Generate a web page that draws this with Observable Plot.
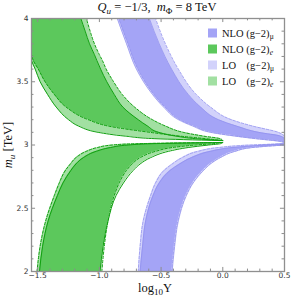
<!DOCTYPE html>
<html><head><meta charset="utf-8">
<script src="https://cdn.jsdelivr.net/npm/d3@7"></script>
<script src="https://cdn.jsdelivr.net/npm/@observablehq/plot@0.6"></script>
<style>
body{margin:0;background:#fff;}
#chart{width:291px;height:303px;}
</style></head><body><div id="chart"></div>
<script>
const XMIN = -1.55, XMAX = 0.5;
const xMajor = [-1.5, -1.0, -0.5, 0.0, 0.5];
const yMajor = [2, 2.5, 3, 3.5, 4];

// (g-2)_e, upper branch (m_u above crossing)
const eUpM      = [4.0, 3.9, 3.8, 3.714, 3.667, 3.6, 3.5, 3.4, 3.3, 3.2, 3.15, 3.1, 3.07, 3.05, 3.035];
const eUpNLOlo  = [-1.55, -1.55, -1.55, -1.55, -1.55, -1.52, -1.48, -1.42, -1.35, -1.25, -1.17, -1.01, -0.79, -0.55, -0.02];
const eUpNLOhi  = [-1.15, -1.115, -1.08, -1.04, -1.02, -0.99, -0.94, -0.88, -0.81, -0.685, -0.61, -0.52, -0.38, -0.22, 0.0];
const eUpLOlo   = [-1.55, -1.55, -1.55, -1.55, -1.535, -1.495, -1.44, -1.365, -1.27, -1.09, -0.93, -0.59, -0.345, -0.14, -0.005];
const eUpLOhi   = [-1.105, -1.075, -1.04, -1.0, -0.975, -0.945, -0.885, -0.815, -0.715, -0.57, -0.465, -0.32, -0.155, -0.02, 0.0];

// (g-2)_e, lower branch
const eDnM      = [2.0, 2.2, 2.4, 2.6, 2.7, 2.8, 2.85, 2.9, 2.95, 2.98, 3.0, 3.01, 3.02];
const eDnNLOlo  = [-1.485, -1.46, -1.415, -1.34, -1.295, -1.23, -1.19, -1.13, -1.025, -0.91, -0.765, -0.585, 0.0];
const eDnNLOhi  = [-0.995, -0.97, -0.93, -0.865, -0.805, -0.725, -0.67, -0.585, -0.44, -0.28, -0.115, -0.02, 0.0];
const eDnLOlo   = [-1.505, -1.48, -1.435, -1.365, -1.325, -1.275, -1.235, -1.19, -1.105, -1.015, -0.895, -0.71, -0.02];
const eDnLOhi   = [-0.98, -0.96, -0.93, -0.88, -0.84, -0.78, -0.735, -0.67, -0.545, -0.41, -0.22, -0.085, -0.01];

// (g-2)_mu, upper branch
const mUpM      = [4.0, 3.8, 3.6, 3.4, 3.3, 3.2, 3.15, 3.1, 3.07, 3.05, 3.03, 3.02];
const mUpNLOlo  = [-0.855, -0.78, -0.70, -0.57, -0.48, -0.36, -0.245, -0.10, 0.10, 0.265, 0.45, 0.5];
const mUpNLOhi  = [-0.595, -0.515, -0.415, -0.28, -0.18, -0.035, 0.11, 0.29, 0.47, 0.5, 0.5, 0.5];
const mUpLOlo   = [-0.843, -0.768, -0.688, -0.558, -0.468, -0.348, -0.233, -0.088, 0.112, 0.277, 0.46, 0.5];
const mUpLOhi   = [-0.545, -0.465, -0.36, -0.215, -0.10, 0.07, 0.24, 0.45, 0.5, 0.5, 0.5, 0.5];

// (g-2)_mu, lower branch
const mDnM      = [2.0, 2.2, 2.4, 2.6, 2.7, 2.8, 2.85, 2.9, 2.95, 2.98, 3.0, 3.01];
const mDnNLOlo  = [-0.67, -0.65, -0.625, -0.565, -0.515, -0.425, -0.35, -0.255, -0.10, 0.08, 0.345, 0.5];
const mDnNLOhi  = [-0.41, -0.39, -0.36, -0.295, -0.24, -0.155, -0.10, -0.02, 0.10, 0.24, 0.5, 0.5];
const mDnLOlo   = [-0.685, -0.67, -0.645, -0.585, -0.545, -0.475, -0.41, -0.33, -0.20, -0.035, 0.225, 0.5];
const mDnLOhi   = [-0.414, -0.394, -0.364, -0.299, -0.244, -0.159, -0.104, -0.024, 0.096, 0.236, 0.5, 0.5];

const legendLabels = [
  {sup: "NLO", pad: " ", sub: "μ"},
  {sup: "NLO", pad: " ", sub: "e"},
  {sup: "LO", pad: "    ", sub: "μ"},
  {sup: "LO", pad: "    ", sub: "e"}
];

const GREEN_LIGHT = "#a2e0a2", GREEN_DARK = "#5cc85c", GREEN_LINE = "#10a010";
const BLUE_LIGHT = "#d2d2fb", BLUE_DARK = "#a4a4f6", BLUE_LINE = "#9090ee";
const legendColors = [BLUE_DARK, GREEN_DARK, BLUE_LIGHT, GREEN_LIGHT];

function band(m, nlo1, nlo2, lo1, lo2) {
  const rows = m.map((mm, i) => {
    const iL = Math.max(nlo1[i], lo1[i]);
    let iR = Math.min(nlo2[i], lo2[i]);
    return {m: mm, nlo1: nlo1[i], nlo2: nlo2[i], lo1: lo1[i], lo2: lo2[i],
      uL: Math.min(nlo1[i], lo1[i]), uR: Math.max(nlo2[i], lo2[i]),
      iL, iR: Math.max(iL, iR)};
  });
  return rows.sort((a, b) => a.m - b.m);
}
const isIn = (q, k) => q && q[k] > XMIN + 1e-9 && q[k] < XMAX - 1e-9;
function trim(rows, k) {
  return rows.filter((r, i) => isIn(r, k) || isIn(rows[i - 1], k) || isIn(rows[i + 1], k));
}

const bands = [
  {rows: band(eUpM, eUpNLOlo, eUpNLOhi, eUpLOlo, eUpLOhi), light: GREEN_LIGHT, dark: GREEN_DARK, line: GREEN_LINE, w: 1},
  {rows: band(eDnM, eDnNLOlo, eDnNLOhi, eDnLOlo, eDnLOhi), light: GREEN_LIGHT, dark: GREEN_DARK, line: GREEN_LINE, w: 1},
  {rows: band(mUpM, mUpNLOlo, mUpNLOhi, mUpLOlo, mUpLOhi), light: BLUE_LIGHT, dark: BLUE_DARK, line: BLUE_LINE, w: 0.75},
  {rows: band(mDnM, mDnNLOlo, mDnNLOhi, mDnLOlo, mDnLOhi), light: BLUE_LIGHT, dark: BLUE_DARK, line: BLUE_LINE, w: 0.75}
];

const marks = [];
for (const b of bands) {
  marks.push(Plot.areaX(b.rows, {y: "m", x1: "uL", x2: "uR", fill: b.light, curve: "monotone-y", clip: true}));
  marks.push(Plot.areaX(b.rows, {y: "m", x1: "iL", x2: "iR", fill: b.dark, curve: "monotone-y", clip: true}));
}
for (const b of bands) {
  for (const k of ["nlo1", "nlo2"]) marks.push(Plot.line(trim(b.rows, k), {x: k, y: "m", stroke: b.line, strokeWidth: b.w, curve: "monotone-y", clip: true}));
  for (const k of ["lo1", "lo2"]) marks.push(Plot.line(trim(b.rows, k), {x: k, y: "m", stroke: b.line, strokeWidth: b.w, strokeDasharray: "2.5,1.8", curve: "monotone-y", clip: true}));
}

// frame ticks
const xMinor = d3.range(-15, 6).map(d => d / 10).filter(d => !xMajor.some(v => Math.abs(v - d) < 1e-9));
const yMinor = d3.range(20, 41).map(d => d / 10).filter(d => !yMajor.some(v => Math.abs(v - d) < 1e-9));
const TK = "#8c8c8c";
const dy1 = 0.032, dy2 = 0.019, dx1 = 0.033, dx2 = 0.02;
marks.push(
  Plot.ruleX(xMajor, {x: d => d, y1: 2, y2: 2 + dy1, stroke: TK}),
  Plot.ruleX(xMajor, {x: d => d, y1: 4, y2: 4 - dy1, stroke: TK}),
  Plot.ruleX(xMinor, {x: d => d, y1: 2, y2: 2 + dy2, stroke: TK}),
  Plot.ruleX(xMinor, {x: d => d, y1: 4, y2: 4 - dy2, stroke: TK}),
  Plot.ruleY(yMajor, {y: d => d, x1: XMIN, x2: XMIN + dx1, stroke: TK}),
  Plot.ruleY(yMajor, {y: d => d, x1: XMAX, x2: XMAX - dx1, stroke: TK}),
  Plot.ruleY(yMinor, {y: d => d, x1: XMIN, x2: XMIN + dx2, stroke: TK}),
  Plot.ruleY(yMinor, {y: d => d, x1: XMAX, x2: XMAX - dx2, stroke: TK}),
  Plot.frame({stroke: "#8f8f8f", strokeWidth: 1.3}),
  Plot.axisX({ticks: xMajor, tickSize: 0, tickPadding: 1.5, tickFormat: d3.format(".1f"), label: null, fill: "#333"}),
  Plot.axisY({ticks: yMajor, tickSize: 0, tickPadding: 3, tickFormat: d => String(d), label: null, fill: "#333"})
);

const svg = Plot.plot({
  width: 291, height: 303,
  marginLeft: 31, marginRight: 7, marginTop: 18, marginBottom: 32,
  x: {domain: [XMIN, XMAX]},
  y: {domain: [2, 4]},
  style: {fontFamily: "'DejaVu Sans', sans-serif", fontSize: "7.5px", background: "#fff"},
  marks
});
document.getElementById("chart").appendChild(svg);

const s = d3.select(svg);
const SERIF = "'Liberation Serif', 'Times New Roman', serif";
function rich(g, parts) {
  for (const p of parts) {
    const t = g.append("tspan").text(p.t);
    if (p.i) t.attr("font-style", "italic");
    if (p.sub) t.attr("font-size", p.fs || "0.72em").attr("dy", p.sub);
    if (p.back) t.attr("dy", p.back);
  }
}
// title
const title = s.append("text").attr("x", 157).attr("y", 11).attr("text-anchor", "middle")
  .attr("font-family", SERIF).attr("font-size", 12.5).attr("fill", "#111");
rich(title, [{t: "Q", i: true}, {t: "u", i: true, sub: 3}, {t: " = −1/3,  ", back: -3}, {t: "m", i: true}, {t: "Φ", sub: 3}, {t: " = 8 TeV", back: -3}]);
// y label
const yl = s.append("text").attr("transform", "translate(12,145) rotate(-90)").attr("text-anchor", "middle")
  .attr("font-family", SERIF).attr("font-size", 12.5).attr("fill", "#111");
rich(yl, [{t: "m", i: true}, {t: "u", i: true, sub: 3}, {t: " [TeV]", back: -3}]);
// x label
const xl = s.append("text").attr("x", 155).attr("y", 292).attr("text-anchor", "middle")
  .attr("font-family", SERIF).attr("font-size", 12.5).attr("fill", "#111");
rich(xl, [{t: "log"}, {t: "10", sub: 3}, {t: "Y", back: -3}]);
// legend
legendLabels.forEach((L, i) => {
  const cy = 33 + i * 16;
  s.append("rect").attr("x", 208).attr("y", cy - 4.5).attr("width", 9).attr("height", 9).attr("fill", legendColors[i]);
  const t = s.append("text").attr("x", 222).attr("y", cy + 3.5).attr("text-anchor", "start")
    .attr("font-family", SERIF).attr("font-size", 10.5).attr("fill", "#111")
    .attr("xml:space", "preserve").style("white-space", "pre");
  rich(t, [{t: L.sup + L.pad + "(g−2)"}, {t: L.sub, sub: 2.5, i: L.sub === "e"}]);
});
</script></body></html>
